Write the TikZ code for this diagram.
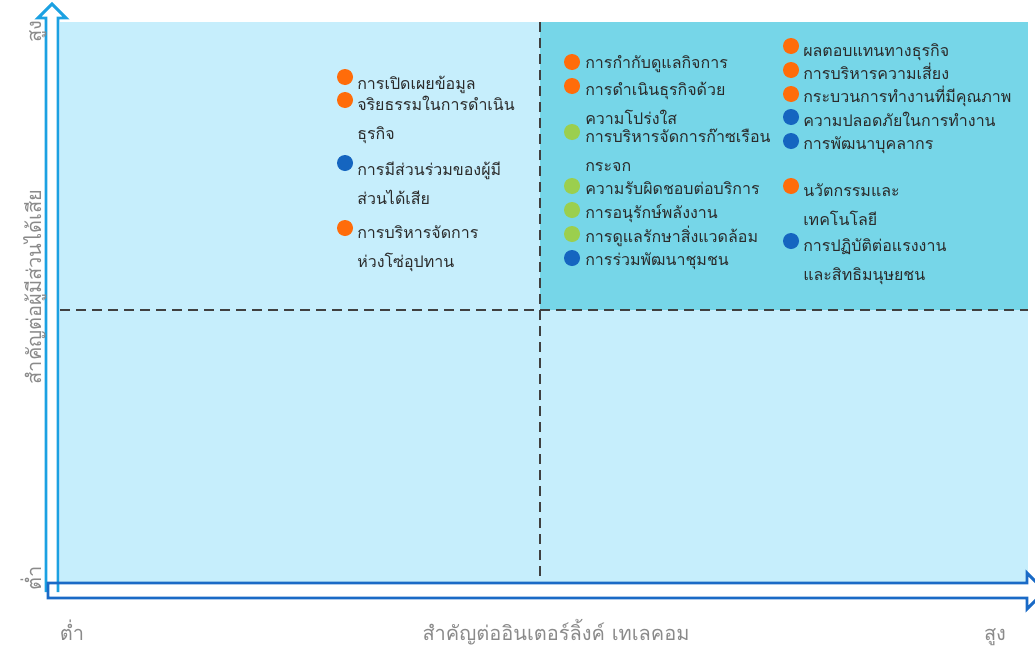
\documentclass[tikz,border=0pt]{standalone}
\usepackage{fontspec}
\setmainfont{Loma}[Script=Thai]
\usetikzlibrary{positioning}
\definecolor{bgpale}{HTML}{C6EEFC}
\definecolor{bgteal}{HTML}{76D6E8}
\definecolor{axisv}{HTML}{1BA1E2}
\definecolor{axish}{HTML}{1A6AC6}
\definecolor{dotorange}{HTML}{FF6C0A}
\definecolor{dotblue}{HTML}{1565C0}
\definecolor{dotgreen}{HTML}{9BCF4E}
\definecolor{txtdark}{HTML}{2A2A2A}
\definecolor{txtgrey}{HTML}{8A8A8A}

\begin{document}
\begin{tikzpicture}[x=0.75pt, y=-0.75pt]
\tikzset{dot/.style={circle, inner sep=0pt, minimum size=12pt},
		item/.style={anchor=base west, align=left, inner sep=0pt, text=txtdark, font=\fontsize{12}{21.75}\selectfont},
		axlabel/.style={anchor=base, inner sep=0pt, text=txtgrey, font=\fontsize{15}{17}\selectfont},
		quadline/.style={dash pattern=on 7.5pt off 4.5pt, line width=1.1pt, draw=black!75},
		hollow/.style={line width=2.2pt, line join=miter}}
\useasboundingbox (0,0) rectangle (1035,650);
% quadrants
\fill[bgpale] (60,22) rectangle (1028,583);
\fill[bgteal] (540,22) rectangle (1028,310);
\draw[quadline] (540,22) -- (540,583);
\draw[quadline] (60,310) -- (1028,310);
% axes
\draw[hollow, axisv] (46,592) -- (46,18) -- (38,18) -- (52,4) -- (66,18) -- (58,18) -- (58,592);
\draw[hollow, axish] (48,598) -- (48,583) -- (1027,583) -- (1027,573) -- (1045,591) -- (1027,609) -- (1027,598) -- cycle;
\node[axlabel, rotate=90] (YH) at (41,32) {สูง};
\node[axlabel, rotate=90] (YT) at (41,287) {สำคัญต่อผู้มีส่วนได้เสีย};
\node[axlabel, rotate=90] (YL) at (41,578) {ต่ำ};
\node[axlabel] (XL) at (72,640) {ต่ำ};
\node[axlabel] (XT) at (556,640) {สำคัญต่ออินเตอร์ลิ้งค์ เทเลคอม};
\node[axlabel] (XH) at (995,640) {สูง};

% low - high
\node[dot, fill=dotorange] (A1) at (345,77) {};
\node[item] (A1t) at (357,89) {การเปิดเผยข้อมูล};
\node[dot, fill=dotorange] (A2) at (345,100) {};
\node[item] (A2t) at (357,139) {จริยธรรมในการดำเนิน\\ธุรกิจ};
\node[dot, fill=dotblue] (A3) at (345,163) {};
\node[item] (A3t) at (357,204) {การมีส่วนร่วมของผู้มี\\ส่วนได้เสีย};
\node[dot, fill=dotorange] (A4) at (345,228) {};
\node[item] (A4t) at (357,267) {การบริหารจัดการ\\ห่วงโซ่อุปทาน};

% high - high, left
\node[dot, fill=dotorange] (B1) at (572,62) {};
\node[item] (B1t) at (585,68) {การกำกับดูแลกิจการ};
\node[dot, fill=dotorange] (B2) at (572,86) {};
\node[item] (B2t) at (585,124) {การดำเนินธุรกิจด้วย\\ความโปร่งใส};
\node[dot, fill=dotgreen] (B3) at (572,132) {};
\node[item] (B3t) at (585,171) {การบริหารจัดการก๊าซเรือน\\กระจก};
\node[dot, fill=dotgreen] (B4) at (572,186) {};
\node[item] (B4t) at (585,194) {ความรับผิดชอบต่อบริการ};
\node[dot, fill=dotgreen] (B5) at (572,210) {};
\node[item] (B5t) at (585,218) {การอนุรักษ์พลังงาน};
\node[dot, fill=dotgreen] (B6) at (572,234) {};
\node[item] (B6t) at (585,242) {การดูแลรักษาสิ่งแวดล้อม};
\node[dot, fill=dotblue] (B7) at (572,258) {};
\node[item] (B7t) at (585,265) {การร่วมพัฒนาชุมชน};

% high - high, right
\node[dot, fill=dotorange] (C1) at (791,46) {};
\node[item] (C1t) at (803,56) {ผลตอบแทนทางธุรกิจ};
\node[dot, fill=dotorange] (C2) at (791,70) {};
\node[item] (C2t) at (803,79) {การบริหารความเสี่ยง};
\node[dot, fill=dotorange] (C3) at (791,94) {};
\node[item] (C3t) at (803,102) {กระบวนการทำงานที่มีคุณภาพ};
\node[dot, fill=dotblue] (C4) at (791,117) {};
\node[item] (C4t) at (803,126) {ความปลอดภัยในการทำงาน};
\node[dot, fill=dotblue] (C5) at (791,141) {};
\node[item] (C5t) at (803,149) {การพัฒนาบุคลากร};
\node[dot, fill=dotorange] (C6) at (791,186) {};
\node[item] (C6t) at (803,225) {นวัตกรรมและ\\เทคโนโลยี};
\node[dot, fill=dotblue] (C7) at (791,241) {};
\node[item] (C7t) at (803,280) {การปฏิบัติต่อแรงงาน\\และสิทธิมนุษยชน};
\end{tikzpicture}
\end{document}
